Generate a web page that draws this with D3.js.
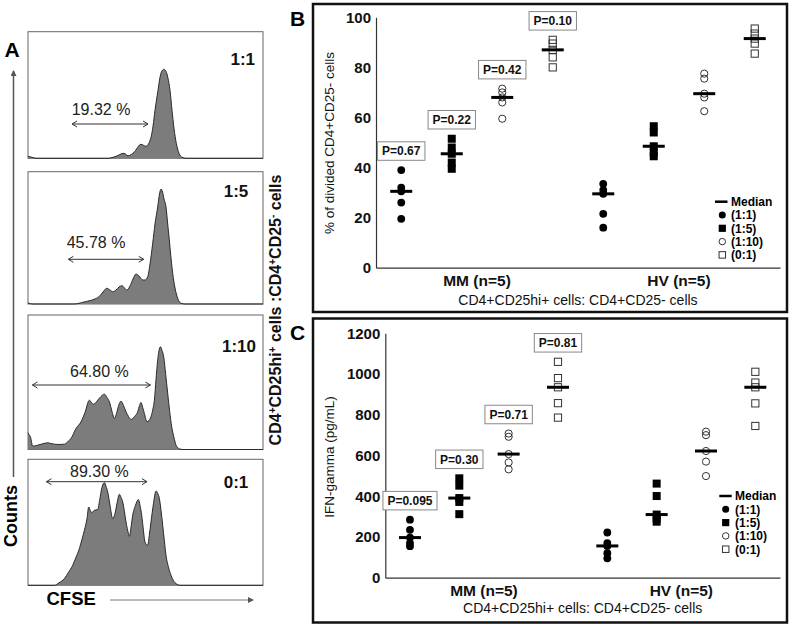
<!DOCTYPE html>
<html><head><meta charset="utf-8">
<script src="https://cdn.jsdelivr.net/npm/d3@7"></script>
<style>body{margin:0;background:#fff} svg{display:block} text{font-family:"Liberation Sans",Arial,sans-serif}</style>
</head><body><svg id="c" width="792" height="627"></svg>
<script>
// ---------------- data ----------------
const ratios = ["1:1", "1:5", "1:10", "0:1"];
const groups = ["MM (n=5)", "HV (n=5)"];
const legendLabels = ["(1:1)", "(1:5)", "(1:10)", "(0:1)"];

// % of divided CD4+CD25- cells (panel B)
const divMM = [[39, 32, 30.5, 26, 19.5], [51.5, 48, 45.5, 42, 39.5], [71.5, 70, 68, 66, 59.5], [91, 89.5, 87, 84, 80]];
const divHV = [[33.5, 31, 29.5, 21.5, 16], [56.5, 54, 48.5, 46, 44.5], [77.5, 75.5, 69.5, 68, 62.5], [95.5, 93.5, 91.5, 89.5, 85.5]];
const pDiv = ["P=0.67", "P=0.22", "P=0.42", "P=0.10"];
const ticksDiv = [0, 20, 40, 60, 80, 100];

// IFN-gamma pg/mL (panel C)
const ifnMM = [[285, 235, 197, 170, 155], [488, 452, 391, 372, 312], [708, 692, 607, 566, 532], [1060, 980, 935, 857, 786]];
const ifnHV = [[222, 170, 156, 120, 95], [462, 401, 310, 290, 275], [717, 700, 622, 570, 499], [1011, 958, 935, 856, 745]];
const pIfn = ["P=0.095", "P=0.30", "P=0.71", "P=0.81"];
const ticksIfn = [0, 200, 400, 600, 800, 1000, 1200];

// CFSE histograms (panel A): [channel, counts]
const hist11 = [[0,2],[4,1],[8,0],[80,0],[88,2],[96,5],[100,2.5],[106,6],[113,14],[118,12],[123,21],[125,32],[127,48],[130,68],[132,81],[134,87.5],[136,89],[138,87],[140,80],[142,68],[144,48],[146,30],[148.3,15],[151,5],[154,1],[158,0],[235,0]];
const hist15 = [[0,1],[5,0],[46,0],[56,2],[66,4.7],[71,7.3],[75,12],[78.7,15.7],[82,14],[84.7,12.3],[88,14],[91,17],[94,18.3],[96.5,16],[98.7,14],[102,18],[105,25],[108,30],[111,28],[114.7,24],[117,24],[119.7,27.3],[122,40],[124.7,60.7],[127,80],[129.7,97],[131.5,110],[133,115],[134.5,112],[136,105],[138,97],[139.5,82],[141.3,64],[143,46],[144.7,30.7],[147,16],[149.7,5.7],[153,0.7],[157,0],[235,0]];
const hist110 = [[0,16.7],[1,15],[2.4,12.7],[4.7,3.3],[9.7,4.3],[14,5.5],[19.7,6.7],[23,6],[26.4,5.3],[31,5],[36.4,5.3],[40,8],[43,11],[48,21],[53,27.7],[57,37],[61.4,49.3],[63.5,47],[65.7,45.3],[69.7,49.3],[73,53],[76.4,55.3],[79,52],[81.4,47.7],[84,38],[86.4,31],[88.5,36],[91,45],[93,48.3],[95.5,44],[98,37.7],[100.5,33],[103,30],[106.5,33],[109.7,37.7],[111.5,44],[113,47],[114.7,42],[116.4,36],[119,27.7],[121,29],[123,32.7],[124.8,40],[126.4,49.3],[128,70],[129.7,89.3],[131,99],[132.4,102.7],[134,99],[135.7,92.7],[137.7,75],[139.7,56],[141.7,38],[143.7,22.7],[146,12],[148,4.3],[151.4,0.7],[155,0],[235,0]];
const hist01 = [[0,0],[26.4,0],[31,2.5],[36.4,6.7],[40.5,13],[44.7,20],[48,28],[51.4,36.7],[54,46],[56.4,55],[59,66.7],[60.7,78.3],[62.2,75],[63.7,72.7],[66.4,75],[69.7,75.7],[71.8,86],[73.7,96.7],[76.4,102.7],[78,99],[79.7,93.3],[82,80],[84.7,66.7],[87,71.7],[89.2,83],[91.4,91],[93,88],[94.7,83.3],[96.4,74],[98,63.3],[99.7,55],[101.4,49],[103,58],[104.7,70],[107.5,80],[110.4,85.7],[112,80],[113.7,70],[115.3,56],[117,43.3],[119.7,40],[121.3,50],[123,63.3],[125.5,82],[128,94.3],[129.7,92],[131.4,86.7],[133,75],[134.7,60],[136.3,45],[138,30],[140.5,18],[143,10],[145.5,4.5],[148,1.7],[152,0],[235,0]];
const histLabels = ["1:1", "1:5", "1:10", "0:1"];
const histPercents = ["19.32 %", "45.78 %", "64.80 %", "89.30 %"];
const histGates = [[43, 121], [39.4, 116.7], [3.4, 123.4], [17.4, 120]];

// ---------------- drawing ----------------
const svg = d3.select("#c");
svg.append("rect").attr("width", 792).attr("height", 627).attr("fill", "#fff");
const defs = svg.append("defs");
defs.append("marker").attr("id", "chev").attr("viewBox", "-7 -4 8 8").attr("refX", 0).attr("refY", 0)
  .attr("markerWidth", 8).attr("markerHeight", 8).attr("markerUnits", "userSpaceOnUse").attr("orient", "auto-start-reverse")
  .append("path").attr("d", "M-5,-3 L0,0 L-5,3").attr("fill", "none").attr("stroke", "#333").attr("stroke-width", 1);
defs.append("marker").attr("id", "tri").attr("viewBox", "0 -3 6 6").attr("refX", 5).attr("refY", 0)
  .attr("markerWidth", 6).attr("markerHeight", 6).attr("markerUnits", "userSpaceOnUse").attr("orient", "auto")
  .append("path").attr("d", "M0,-3 L6,0 L0,3 Z").attr("fill", "#555");

// ---- Panel A ----
const hx = d3.scaleLinear().domain([0, 235]).range([28, 263]);
const boxes = [{y: 31.7, h: 126.6}, {y: 171.7, h: 132.3}, {y: 315, h: 134.5}, {y: 459.3, h: 126}];
const hists = [hist11, hist15, hist110, hist01];
const labelPos = [{x: 255, y: 65}, {x: 248.3, y: 196.7}, {x: 256, y: 351.7}, {x: 248.3, y: 487.7}];
const pctPos = [{x: 71.7, y: 115, ay: 124}, {x: 66.7, y: 248.3, ay: 259.3}, {x: 70, y: 376.7, ay: 385}, {x: 70, y: 476.7, ay: 481.7}];

hists.forEach((h, i) => {
  const b = boxes[i];
  const bottom = b.y + b.h;
  const hy = d3.scaleLinear().domain([0, 130]).range([bottom, bottom - 130]);
  const g = svg.append("g");
  g.append("rect").attr("x", hx(0)).attr("y", b.y).attr("width", hx(235) - hx(0)).attr("height", b.h)
    .attr("fill", "#fff").attr("stroke", "#666").attr("stroke-width", 1);
  const area = d3.area().x(d => hx(d[0])).y0(bottom).y1(d => hy(d[1])).curve(d3.curveMonotoneX);
  const line = d3.line().x(d => hx(d[0])).y(d => hy(d[1])).curve(d3.curveMonotoneX);
  g.append("path").datum(h).attr("d", area).attr("fill", "#7c7c7c");
  g.append("path").datum(h).attr("d", line).attr("fill", "none").attr("stroke", "#2a2a2a").attr("stroke-width", 1);
  g.append("text").attr("x", labelPos[i].x).attr("y", labelPos[i].y).attr("text-anchor", "end")
    .attr("font-weight", "bold").attr("font-size", 17).attr("fill", "#111").text(histLabels[i]);
  g.append("text").attr("x", pctPos[i].x).attr("y", pctPos[i].y).attr("font-size", 16).attr("fill", "#222").text(histPercents[i]);
  g.append("line").attr("x1", hx(histGates[i][0]) + 1).attr("x2", hx(histGates[i][1]) - 1)
    .attr("y1", pctPos[i].ay).attr("y2", pctPos[i].ay).attr("stroke", "#333").attr("stroke-width", 1)
    .attr("marker-start", "url(#chev)").attr("marker-end", "url(#chev)");
});

svg.append("text").attr("x", 12).attr("y", 57).attr("text-anchor", "middle").attr("font-weight", "bold").attr("font-size", 21).text("A");
svg.append("line").attr("x1", 13.5).attr("y1", 477).attr("x2", 13.5).attr("y2", 71)
  .attr("stroke", "#555").attr("stroke-width", 1.5).attr("marker-end", "url(#tri)");
svg.append("text").attr("transform", "translate(16.5,516) rotate(-90)").attr("text-anchor", "middle")
  .attr("font-weight", "bold").attr("font-size", 18).text("Counts");
svg.append("text").attr("x", 46.5).attr("y", 605).attr("font-weight", "bold").attr("font-size", 18.5).text("CFSE");
svg.append("line").attr("x1", 110).attr("y1", 600).attr("x2", 253).attr("y2", 600)
  .attr("stroke", "#777").attr("stroke-width", 1).attr("marker-end", "url(#tri)");
const rl = svg.append("text").attr("transform", "translate(281,310) rotate(-90)").attr("text-anchor", "middle")
  .attr("font-weight", "bold").attr("font-size", 16).attr("fill", "#111");
rl.append("tspan").text("CD4");
rl.append("tspan").attr("baseline-shift", "super").attr("font-size", 10).text("+");
rl.append("tspan").text("CD25hi");
rl.append("tspan").attr("baseline-shift", "super").attr("font-size", 10).text("+");
rl.append("tspan").text(" cells :CD4");
rl.append("tspan").attr("baseline-shift", "super").attr("font-size", 10).text("+");
rl.append("tspan").text("CD25");
rl.append("tspan").attr("baseline-shift", "super").attr("font-size", 10).text("-");
rl.append("tspan").text(" cells");

// ---- Panels B & C ----
function drawSym(g, ri, cx, cy, k = 1) {
  if (ri === 0) g.append("circle").attr("cx", cx).attr("cy", cy).attr("r", 3.9 * k).attr("fill", "#000");
  else if (ri === 1) g.append("rect").attr("x", cx - 4 * k).attr("y", cy - 4 * k).attr("width", 8 * k).attr("height", 8 * k).attr("fill", "#000");
  else if (ri === 2) g.append("circle").attr("cx", cx).attr("cy", cy).attr("r", 3.6 * k).attr("fill", "none").attr("stroke", "#333").attr("stroke-width", 1);
  else g.append("rect").attr("x", cx - 3.6 * k).attr("y", cy - 3.6 * k).attr("width", 7.2 * k).attr("height", 7.2 * k).attr("fill", "none").attr("stroke", "#333").attr("stroke-width", 1);
}

function panel(o) {
  const g = svg.append("g");
  g.append("rect").attr("x", o.box[0]).attr("y", o.box[1]).attr("width", o.box[2]).attr("height", o.box[3])
    .attr("fill", "none").attr("stroke", "#111").attr("stroke-width", 2.5);
  g.append("text").attr("x", 290).attr("y", o.letterY).attr("font-weight", "bold").attr("font-size", 21).text(o.letter);
  const y = d3.scaleLinear().domain([0, o.max]).range([o.y0, o.y1]);
  const xg = d3.scaleBand().domain(groups).range([o.xa, o.xb]);
  const keys = groups.flatMap(gr => ratios.map(r => gr + "|" + r));
  const xp = d3.scalePoint().domain(keys).range([o.xa, o.xb]).padding(0.5);

  const ya = g.append("g").attr("transform", `translate(${o.xa},0)`)
    .call(d3.axisLeft(y).tickValues(o.ticks).tickFormat(d3.format("d")).tickSize(0).tickPadding(5));
  ya.select(".domain").attr("stroke", "#333").attr("stroke-width", 1.2);
  ya.selectAll("text").attr("font-family", "Liberation Sans, Arial, sans-serif").attr("font-weight", "bold")
    .attr("font-size", 15).attr("fill", "#111");
  const xa = g.append("g").attr("transform", `translate(0,${o.y0})`)
    .call(d3.axisBottom(xg).tickSize(0).tickPadding(7));
  xa.select(".domain").attr("stroke", "#333").attr("stroke-width", 1.2);
  xa.selectAll("text").attr("font-family", "Liberation Sans, Arial, sans-serif").attr("font-weight", "bold")
    .attr("font-size", 15.5).attr("fill", "#111");

  g.append("text").attr("transform", `translate(${o.ytX},${o.ytY}) rotate(-90)`).attr("text-anchor", "middle")
    .attr("font-size", 13.5).attr("fill", "#111").text(o.yTitle);
  g.append("text").attr("x", (o.xa + o.xb) / 2).attr("y", o.subY).attr("text-anchor", "middle")
    .attr("font-size", 14).attr("fill", "#111").text("CD4+CD25hi+ cells: CD4+CD25- cells");

  const sets = [o.mm, o.hv];
  sets.forEach((set, gi) => {
    set.forEach((vals, ri) => {
      const cx = xp(groups[gi] + "|" + ratios[ri]);
      vals.forEach(v => drawSym(g, ri, cx, y(v)));
      const med = d3.median(vals);
      g.append("line").attr("x1", cx - 11).attr("x2", cx + 11).attr("y1", y(med)).attr("y2", y(med))
        .attr("stroke", "#000").attr("stroke-width", 3);
    });
  });
  // P-value boxes above MM groups
  o.mm.forEach((vals, ri) => {
    const cx = xp(groups[0] + "|" + ratios[ri]);
    const cy = y(d3.max(vals)) - 19;
    const pg = g.append("g");
    const r = pg.append("rect");
    const t = pg.append("text").attr("x", cx).attr("y", cy).attr("dy", "0.36em").attr("text-anchor", "middle")
      .attr("font-weight", "bold").attr("font-size", 12).attr("fill", "#111").text(o.p[ri]);
    const w = t.node().getComputedTextLength() + 9;
    r.attr("x", cx - w / 2).attr("y", cy - 9.25).attr("width", w).attr("height", 18.5)
      .attr("fill", "#fff").attr("stroke", "#888").attr("stroke-width", 1);
  });
  // legend
  const L = o.legend;
  g.append("line").attr("x1", L.lx0).attr("x2", L.lx1).attr("y1", L.y).attr("y2", L.y).attr("stroke", "#000").attr("stroke-width", 2.5);
  g.append("text").attr("x", L.tx).attr("y", L.y).attr("dy", "0.36em").attr("font-weight", "bold").attr("font-size", 12).text("Median");
  legendLabels.forEach((lab, i) => {
    const yy = L.y + 13.3 * (i + 1);
    drawSym(g, i, L.sx, yy, 0.9);
    g.append("text").attr("x", L.tx).attr("y", yy).attr("dy", "0.36em").attr("font-weight", "bold").attr("font-size", 12).text(lab);
  });
}

panel({
  box: [313, 4, 474, 308], letter: "B", letterY: 26,
  max: 100, ticks: ticksDiv, y0: 267.7, y1: 17.3, xa: 376, xb: 780,
  mm: divMM, hv: divHV, p: pDiv,
  yTitle: "% of divided CD4+CD25- cells", ytX: 334, ytY: 143, subY: 305,
  legend: {y: 201.7, lx0: 715, lx1: 727.5, tx: 731, sx: 722.3}
});
panel({
  box: [313, 318.5, 474, 304], letter: "C", letterY: 340,
  max: 1200, ticks: ticksIfn, y0: 577.7, y1: 333.3, xa: 385.3, xb: 780,
  mm: ifnMM, hv: ifnHV, p: pIfn,
  yTitle: "IFN-gamma (pg/mL)", ytX: 334, ytY: 457, subY: 613,
  legend: {y: 496, lx0: 719.3, lx1: 731.7, tx: 735, sx: 725.7}
});
</script></body></html>
